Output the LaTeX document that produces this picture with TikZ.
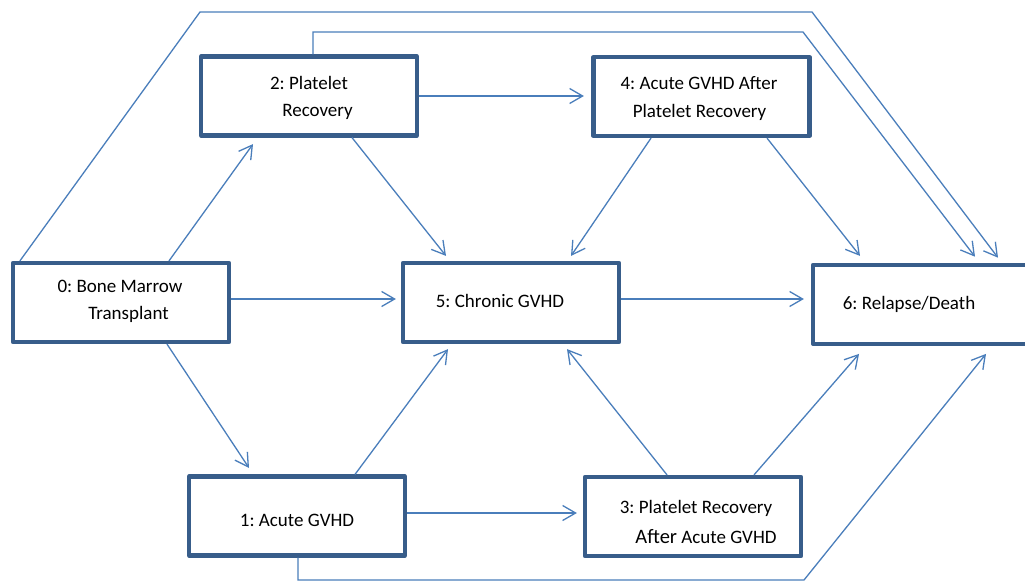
\documentclass[tikz,border=0pt]{standalone}
\usepackage{fontspec}
\setmainfont{Carlito}
\usetikzlibrary{arrows.meta}
\definecolor{boxblue}{HTML}{385D8A}
\definecolor{lineblue}{HTML}{4A7EBB}
\frenchspacing
\begin{document}
\begin{tikzpicture}[x=1pt,y=-1pt,
  box/.style={draw=boxblue,fill=white,line width=4.2pt,minimum width=216pt,minimum height=79pt,inner sep=0pt,line join=round},
  lbl/.style={anchor=base,inner sep=0pt,font=\fontsize{19}{23}\selectfont},
  conn/.style={draw=lineblue,line width=1.3pt,-{Straight Barb[length=13pt,width=15pt]}}]
\useasboundingbox (0,0) rectangle (1025,583);
\clip (0,0) rectangle (1025,583);
\fill[white] (0,0) rectangle (1025,583);

% boxes
\node[box] (b0) at (121,302.5) {};
\node[box] (b2) at (309,96) {};
\node[box] (b4) at (701.5,96.5) {};
\node[box] (b5) at (511,302.5) {};
\node[box] (b6) at (921,304.3) {};
\node[box] (b1) at (297,516) {};
\node[box] (b3) at (693,516.5) {};

% labels
\node[lbl] (t0a) at (120,292.5) {0: Bone Marrow};
\node[lbl] (t0b) at (128.5,319.5) {Transplant};
\node[lbl] (t2a) at (309,89.5) {2: Platelet};
\node[lbl] (t2b) at (317.5,116.5) {Recovery};
\node[lbl] (t4a) at (699,89.5) {4: Acute GVHD After};
\node[lbl] (t4b) at (699.5,117.5) {Platelet Recovery};
\node[lbl] (t5) at (500,307.5) {5: Chronic GVHD};
\node[lbl] (t6) at (909,309.5) {6: Relapse/Death};
\node[lbl] (t1) at (297,526.5) {1: Acute GVHD};
\node[lbl] (t3a) at (696,513.5) {3: Platelet Recovery};
\node[lbl] (t3b) at (706,543.5) {{\fontsize{20.5}{23}\selectfont After} Acute GVHD};

% bend points
\coordinate (ta) at (200,12);
\coordinate (tb) at (812,12);
\coordinate (tc) at (803,32);
\coordinate (bd) at (804,580);

% connectors
\draw[conn] ([shift={(48,0)}]b0.north) -- ([shift={(-56,6.5)}]b2.south);
\draw[conn] ([shift={(0,-3.5)}]b0.east) -- ([shift={(-5,-3.5)}]b5.west);
\draw[conn] ([shift={(46,0)}]b0.south) -- ([shift={(-48,-6.5)}]b1.north);
\draw[conn] ([shift={(9,0)}]b0.north west) -- (ta) -- (tb) -- ([shift={(77,-5)}]b6.north);
\draw[conn] ([shift={(4,0)}]b2.north) |- (tc) -- ([shift={(54,-6)}]b6.north);
\draw[conn] (b2.east) -- ([shift={(-7.5,-0.5)}]b4.west);
\draw[conn] ([shift={(43,0)}]b2.south) -- ([shift={(-65,-5)}]b5.north);
\draw[conn] ([shift={(-50.5,0)}]b4.south) -- ([shift={(60,-5)}]b5.north);
\draw[conn] ([shift={(65.5,0)}]b4.south) -- ([shift={(-61,-6.8)}]b6.north);
\draw[conn] ([shift={(0,-3.5)}]b5.east) -- ([shift={(-7,-5.3)}]b6.west);
\draw[conn] ([shift={(58,0)}]b1.north) -- ([shift={(-63,5)}]b5.south);
\draw[conn] ([shift={(0,-3)}]b1.east) -- ([shift={(-6,-3.5)}]b3.west);
\draw[conn] ([shift={(-26,0)}]b3.north) -- ([shift={(56,5)}]b5.south);
\draw[conn] ([shift={(61,0)}]b3.north) -- ([shift={(-62,8)}]b6.south);
\draw[conn] ([shift={(1,0)}]b1.south) |- (bd) -- ([shift={(65,8)}]b6.south);
\end{tikzpicture}
\end{document}
